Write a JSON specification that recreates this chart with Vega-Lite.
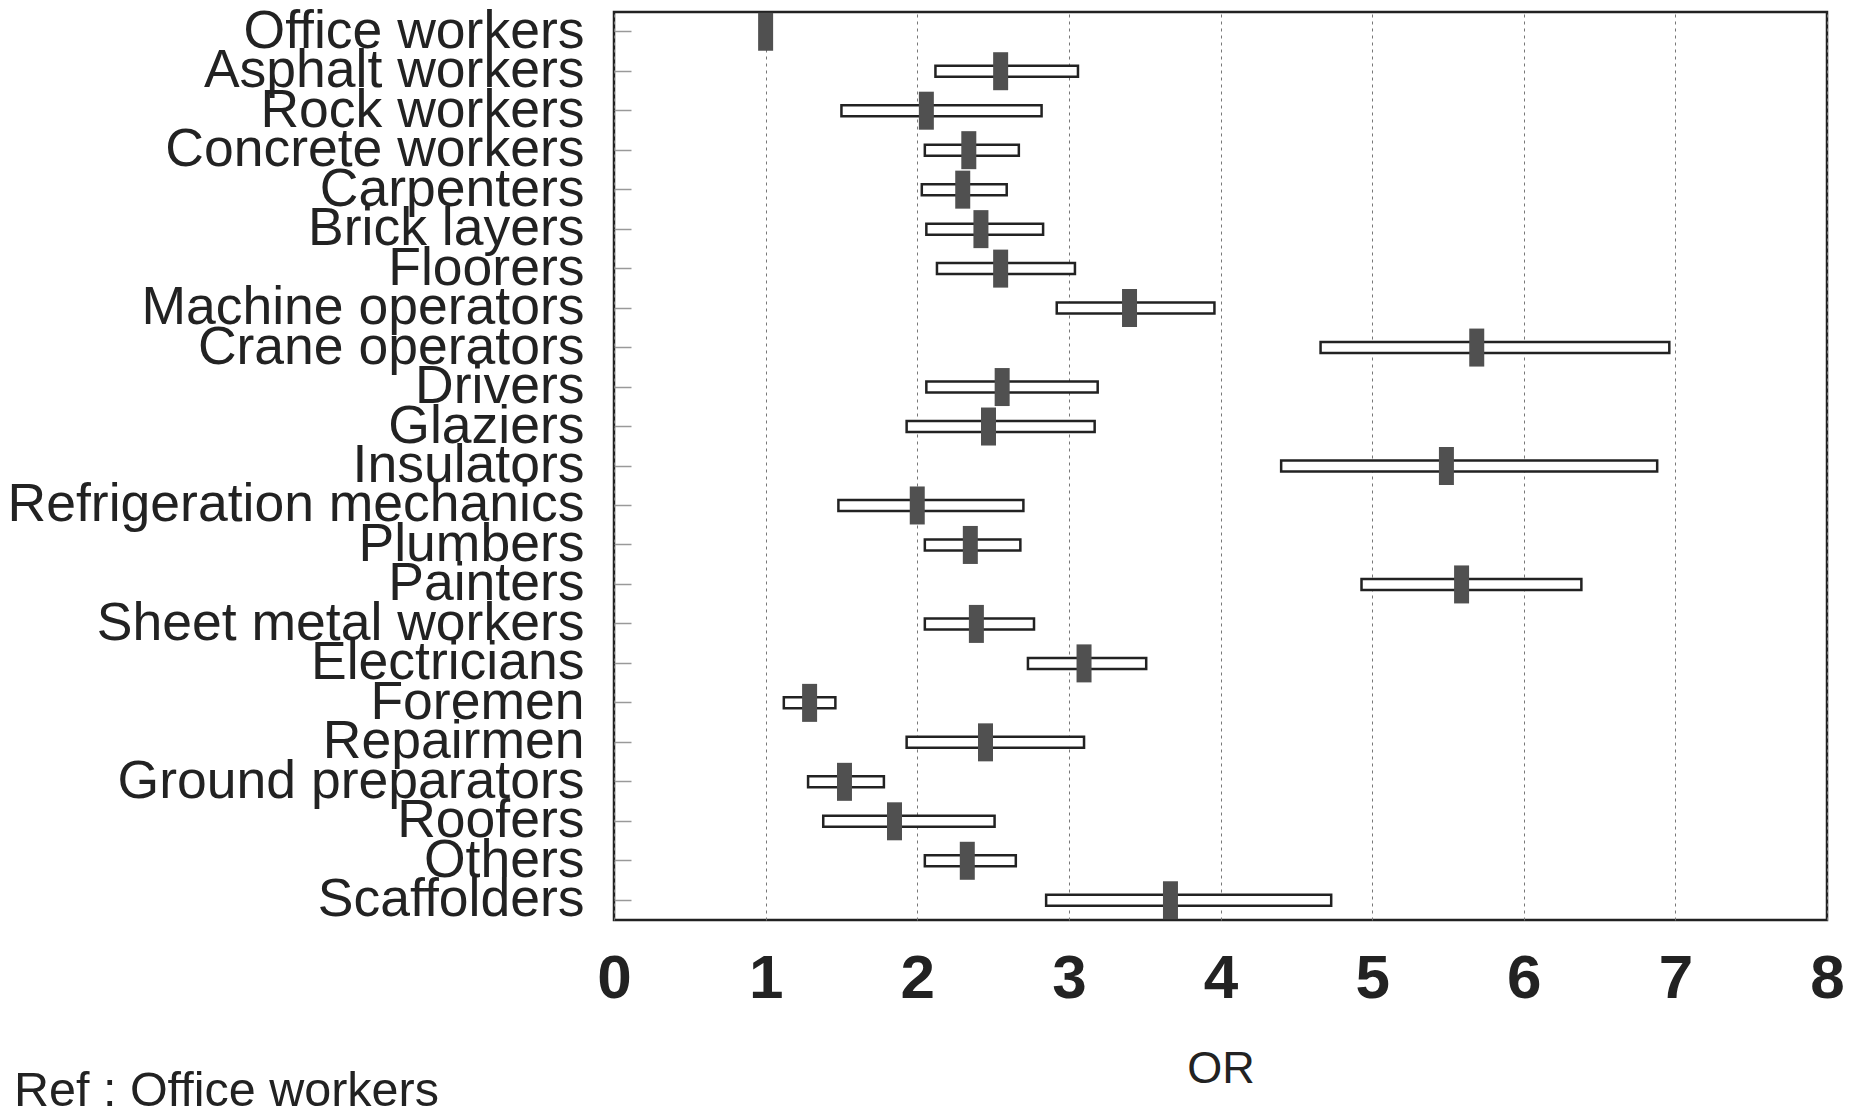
{
  "$schema": "https://vega.github.io/schema/vega-lite/v6.json",
  "autosize": "none",
  "width": 1213,
  "height": 908,
  "padding": {"left": 614, "top": 12, "right": 33, "bottom": 189},
  "background": "white",
  "config": {
    "font": "Liberation Sans",
    "view": {"stroke": "#222", "strokeWidth": 2.5}
  },
  "title": {
    "text": "Ref : Office workers",
    "orient": "bottom",
    "anchor": "start",
    "frame": "group",
    "dx": -600,
    "dy": -27,
    "offset": 4,
    "fontSize": 48.5,
    "fontWeight": "normal",
    "color": "#222",
    "font": "Liberation Sans"
  },
  "data": {
    "values": [
      {"job": "Office workers", "or": 1.0, "low": null, "high": null},
      {"job": "Asphalt workers", "or": 2.55, "low": 2.12, "high": 3.06},
      {"job": "Rock workers", "or": 2.06, "low": 1.50, "high": 2.82},
      {"job": "Concrete workers", "or": 2.34, "low": 2.05, "high": 2.67},
      {"job": "Carpenters", "or": 2.30, "low": 2.03, "high": 2.59},
      {"job": "Brick layers", "or": 2.42, "low": 2.06, "high": 2.83},
      {"job": "Floorers", "or": 2.55, "low": 2.13, "high": 3.04},
      {"job": "Machine operators", "or": 3.40, "low": 2.92, "high": 3.96},
      {"job": "Crane operators", "or": 5.69, "low": 4.66, "high": 6.96},
      {"job": "Drivers", "or": 2.56, "low": 2.06, "high": 3.19},
      {"job": "Glaziers", "or": 2.47, "low": 1.93, "high": 3.17},
      {"job": "Insulators", "or": 5.49, "low": 4.40, "high": 6.88},
      {"job": "Refrigeration mechanics", "or": 2.00, "low": 1.48, "high": 2.70},
      {"job": "Plumbers", "or": 2.35, "low": 2.05, "high": 2.68},
      {"job": "Painters", "or": 5.59, "low": 4.93, "high": 6.38},
      {"job": "Sheet metal workers", "or": 2.39, "low": 2.05, "high": 2.77},
      {"job": "Electricians", "or": 3.10, "low": 2.73, "high": 3.51},
      {"job": "Foremen", "or": 1.29, "low": 1.12, "high": 1.46},
      {"job": "Repairmen", "or": 2.45, "low": 1.93, "high": 3.10},
      {"job": "Ground preparators", "or": 1.52, "low": 1.28, "high": 1.78},
      {"job": "Roofers", "or": 1.85, "low": 1.38, "high": 2.51},
      {"job": "Others", "or": 2.33, "low": 2.05, "high": 2.65},
      {"job": "Scaffolders", "or": 3.67, "low": 2.85, "high": 4.73}
    ]
  },
  "encoding": {
    "y": {
      "field": "job",
      "type": "nominal",
      "sort": null,
      "scale": {
        "domain": ["Office workers", "Asphalt workers", "Rock workers", "Concrete workers", "Carpenters", "Brick layers", "Floorers", "Machine operators", "Crane operators", "Drivers", "Glaziers", "Insulators", "Refrigeration mechanics", "Plumbers", "Painters", "Sheet metal workers", "Electricians", "Foremen", "Repairmen", "Ground preparators", "Roofers", "Others", "Scaffolders"],
        "paddingInner": 0,
        "paddingOuter": 0
      },
      "axis": {
        "title": null,
        "domain": false,
        "grid": false,
        "ticks": true,
        "tickSize": -17,
        "tickColor": "#999",
        "tickWidth": 1.5,
        "labelFontSize": 53.5,
        "labelColor": "#222",
        "labelPadding": 47,
        "labelLimit": 800,
        "labelFont": "Liberation Sans"
      }
    }
  },
  "layer": [
    {
      "mark": {"type": "bar", "size": 11, "fill": "white", "stroke": "#222", "strokeWidth": 2.5},
      "encoding": {
        "x": {
          "field": "low",
          "type": "quantitative",
          "scale": {"domain": [0, 8], "nice": false, "zero": true},
          "axis": {
            "title": "OR",
            "titleFontSize": 45,
            "titleFontWeight": "normal",
            "titleColor": "#222",
            "titlePadding": 37,
            "titleFont": "Liberation Sans",
            "values": [0, 1, 2, 3, 4, 5, 6, 7, 8],
            "format": "d",
            "labelFontSize": 62,
            "labelFontWeight": "bold",
            "labelColor": "#222",
            "labelPadding": 28,
            "labelFlush": false,
            "labelFont": "Liberation Sans",
            "ticks": false,
            "domain": false,
            "grid": true,
            "gridColor": "#777",
            "gridDash": [3, 4],
            "gridWidth": 1
          }
        },
        "x2": {"field": "high"}
      }
    },
    {
      "mark": {"type": "tick", "thickness": 15, "size": 38, "color": "#505050", "opacity": 1},
      "encoding": {
        "x": {"field": "or", "type": "quantitative"}
      }
    }
  ]
}
